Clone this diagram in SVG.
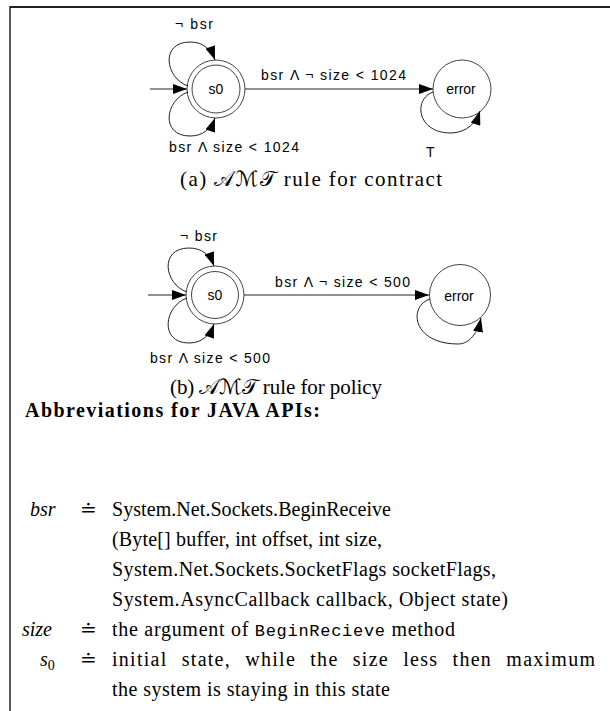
<svg xmlns="http://www.w3.org/2000/svg" width="610" height="711" viewBox="0 0 610 711">
<defs>
<marker id="ah" markerUnits="userSpaceOnUse" markerWidth="15" markerHeight="10" refX="14" refY="5" orient="auto">
<path d="M0,0 L14,5 L0,10 z" fill="#000"/>
</marker>
<style>
.st{fill:none;stroke:#444;stroke-width:1}
.ed{fill:none;stroke:#222;stroke-width:1}
.lb{font-family:"Liberation Sans",Arial,sans-serif;font-size:14px;fill:#000}
.nl{font-family:"Liberation Sans",Arial,sans-serif;font-size:14px;fill:#000;text-anchor:middle;dominant-baseline:central}
.cap{font-family:"Liberation Serif","DejaVu Serif",serif;font-size:21px;fill:#000}
.cal{font-family:"DejaVu Sans","Noto Sans",serif;font-style:normal}
.tx{font-family:"Liberation Serif","DejaVu Serif",serif;font-size:20px;fill:#000}
.it{font-style:italic}
.mono{font-family:"Liberation Mono","DejaVu Sans Mono",monospace;font-size:17px}
.bold{font-weight:bold}
</style>
</defs>
<rect width="610" height="711" fill="#fff"/>
<g id="frame">
<line x1="10" y1="7" x2="610" y2="7" stroke="#222" stroke-width="2"/>
<line x1="10" y1="6" x2="10" y2="711" stroke="#222" stroke-width="1.5"/>
</g>

<g id="a-s0">
<circle cx="216" cy="89" r="29" class="st"/>
<circle cx="216" cy="89" r="24" class="st"/>
<text x="216" y="89" class="nl">s0</text>
</g>
<g id="a-error">
<circle cx="462" cy="89" r="29" class="st"/>
<text x="461" y="89" class="nl">error</text>
</g>
<g id="a-edges">
<line x1="150" y1="89" x2="187" y2="89" class="ed" marker-end="url(#ah)"/>
<path d="M188,86 C165,78 160,42 190,42 C203,42 211,49 215,60" class="ed" marker-end="url(#ah)"/>
<path d="M188,92 C165,100 160,136 190,136 C203,136 211,129 215,118" class="ed" marker-end="url(#ah)"/>
<line x1="245" y1="89" x2="433" y2="89" class="ed" marker-end="url(#ah)"/>
<path d="M433,92 C412,100 418,134 452,133 C467,132 476,123 480,111" class="ed" marker-end="url(#ah)"/>
<text x="175" y="29" class="lb" textLength="38">¬ bsr</text>
<text x="261" y="80" class="lb" textLength="145">bsr Λ ¬ size &lt; 1024</text>
<text x="169" y="152" class="lb" textLength="130">bsr Λ size &lt; 1024</text>
<text x="426" y="157" class="lb">T</text>
</g>
<text x="180" y="186" class="cap" textLength="262">(a) <tspan class="cal">𝒜ℳ𝒯</tspan> rule for contract</text>

<g id="b-s0">
<circle cx="215" cy="295" r="29" class="st"/>
<circle cx="215" cy="295" r="23.5" class="st"/>
<text x="215" y="295" class="nl">s0</text>
</g>
<g id="b-error">
<circle cx="460" cy="295" r="30.5" class="st"/>
<text x="459" y="296" class="nl">error</text>
</g>
<g id="b-edges">
<line x1="148" y1="295" x2="186" y2="295" class="ed" marker-end="url(#ah)"/>
<path d="M187,292 C164,284 159,248 189,248 C202,248 210,255 214,266" class="ed" marker-end="url(#ah)"/>
<path d="M187,298 C164,306 159,343 189,343 C202,343 210,335 214,324" class="ed" marker-end="url(#ah)"/>
<line x1="244" y1="295" x2="429" y2="295" class="ed" marker-end="url(#ah)"/>
<path d="M430,299 C408,306 412,344 458,344 C470,344 478,332 481,318" class="ed" marker-end="url(#ah)"/>
<text x="180" y="241" class="lb" textLength="37">¬ bsr</text>
<text x="275" y="287" class="lb" textLength="135">bsr Λ ¬ size &lt; 500</text>
<text x="150" y="363" class="lb" textLength="120">bsr Λ size &lt; 500</text>
</g>
<text x="170" y="394" class="cap" textLength="212">(b) <tspan class="cal">𝒜ℳ𝒯</tspan> rule for policy</text>

<g id="abbrev">
<text x="25" y="417" class="tx bold" textLength="295">Abbreviations for JAVA APIs:</text>
<text x="30" y="516" class="tx it">bsr</text>
<text x="80" y="516" class="tx">≐</text>
<text x="112" y="516" class="tx" textLength="279">System.Net.Sockets.BeginReceive</text>
<text x="112" y="546" class="tx" textLength="270">(Byte[] buffer, int offset, int size,</text>
<text x="112" y="576" class="tx" textLength="384">System.Net.Sockets.SocketFlags socketFlags,</text>
<text x="112" y="606" class="tx" textLength="396">System.AsyncCallback callback, Object state)</text>
<text x="22" y="636" class="tx it">size</text>
<text x="80" y="636" class="tx">≐</text>
<text x="112" y="636" class="tx" textLength="343">the argument of <tspan class="mono">BeginRecieve</tspan>  method</text>
<text x="40" y="666" class="tx it">s<tspan font-style="normal" font-size="14px" dy="4">0</tspan></text>
<text x="80" y="666" class="tx">≐</text>
<text x="112" y="666" class="tx" word-spacing="8" textLength="483">initial state, while the size less then maximum</text>
<text x="112" y="696" class="tx" textLength="278">the system is staying in this state</text>
</g>
</svg>
